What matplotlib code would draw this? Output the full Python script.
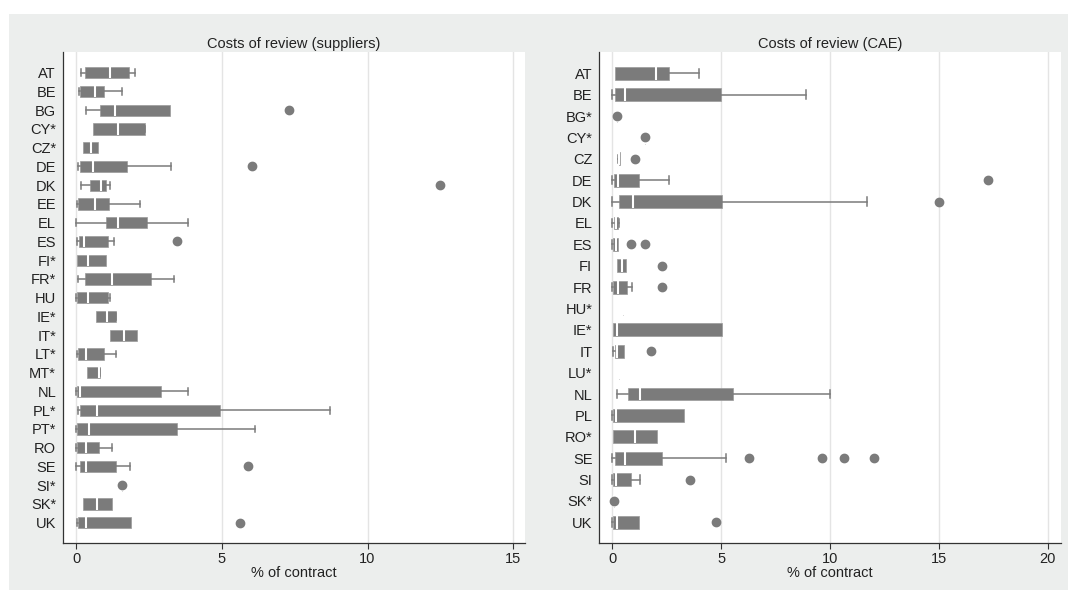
import matplotlib
matplotlib.use("Agg")
import matplotlib.pyplot as plt
from matplotlib.patches import Rectangle

plt.rcParams['font.family'] = ['Liberation Sans', 'DejaVu Sans']

# ---------------- Data: Costs of review (suppliers) ----------------
sup_countries = ["AT", "BE", "BG", "CY*", "CZ*", "DE", "DK", "EE", "EL", "ES", "FI*", "FR*",
                 "HU", "IE*", "IT*", "LT*", "MT*", "NL", "PL*", "PT*", "RO", "SE", "SI*", "SK*", "UK"]
sup_whislo = [0.15, 0.09, 0.32, 0.58, 0.24, 0.06, 0.15, 0.03, 0.00, 0.03, 0.02, 0.05,
              0.00, 0.69, 1.14, 0.02, 0.36, 0.00, 0.06, 0.00, 0.00, 0.00, 1.56, 0.24, 0.02]
sup_q1 = [0.31, 0.11, 0.80, 0.58, 0.24, 0.14, 0.47, 0.06, 1.03, 0.08, 0.02, 0.31,
          0.02, 0.69, 1.14, 0.07, 0.36, 0.01, 0.14, 0.01, 0.01, 0.14, 1.56, 0.24, 0.06]
sup_med = [1.17, 0.64, 1.33, 1.44, 0.49, 0.56, 0.85, 0.63, 1.43, 0.26, 0.39, 1.22,
           0.41, 1.04, 1.62, 0.33, 0.78, 0.11, 0.72, 0.42, 0.34, 0.34, 1.56, 0.72, 0.33]
sup_q3 = [1.79, 0.96, 3.21, 2.36, 0.75, 1.74, 1.02, 1.12, 2.42, 1.08, 1.02, 2.58,
          1.08, 1.36, 2.09, 0.96, 0.81, 2.92, 4.93, 3.47, 0.79, 1.35, 1.56, 1.24, 1.87]
sup_whishi = [2.01, 1.56, 3.21, 2.37, 0.75, 3.26, 1.17, 2.18, 3.85, 1.30, 1.02, 3.35,
              1.16, 1.37, 2.09, 1.35, 0.82, 3.85, 8.72, 6.15, 1.22, 1.83, 1.56, 1.24, 1.87]
sup_outliers = [[], [], [7.30], [], [], [6.02], [12.5], [], [], [3.45], [], [],
                [], [], [], [], [], [], [], [], [], [5.90], [1.56], [], [5.62]]

# ---------------- Data: Costs of review (CAE) ----------------
cae_countries = ["AT", "BE", "BG*", "CY*", "CZ", "DE", "DK", "EL", "ES", "FI", "FR", "HU*",
                 "IE*", "IT", "LU*", "NL", "PL", "RO*", "SE", "SI", "SK*", "UK"]
cae_whislo = [0.11, 0.00, 0.21, 1.49, 0.25, 0.00, 0.00, 0.00, 0.00, 0.23, 0.00, 0.50,
              0.03, 0.05, 0.29, 0.23, 0.00, 0.03, 0.00, 0.00, 0.06, 0.00]
cae_q1 = [0.11, 0.11, 0.21, 1.49, 0.29, 0.09, 0.32, 0.08, 0.02, 0.23, 0.05, 0.50,
          0.03, 0.11, 0.29, 0.72, 0.02, 0.03, 0.11, 0.05, 0.06, 0.05]
cae_med = [2.01, 0.58, 0.21, 1.49, 0.32, 0.28, 0.95, 0.15, 0.17, 0.43, 0.25, 0.50,
           0.23, 0.23, 0.29, 1.27, 0.17, 1.04, 0.58, 0.17, 0.06, 0.23]
cae_q3 = [2.62, 4.97, 0.21, 1.49, 0.37, 1.21, 5.03, 0.28, 0.25, 0.61, 0.69, 0.50,
          5.02, 0.55, 0.29, 5.55, 3.31, 2.04, 2.27, 0.84, 0.06, 1.21]
cae_whishi = [3.96, 8.90, 0.21, 1.49, 0.37, 2.62, 11.70, 0.30, 0.25, 0.61, 0.90, 0.50,
              5.02, 0.55, 0.29, 10.0, 3.31, 2.04, 5.23, 1.27, 0.06, 1.21]
cae_outliers = [[], [], [0.21], [1.49], [1.04], [17.24], [15.0], [], [0.87, 1.49], [2.30], [2.30], [],
                [], [1.78], [], [], [], [], [6.26, 9.63, 10.66, 12.0], [3.57], [0.06], [4.77]]

sup_ticks = [0, 5, 10, 15]
cae_ticks = [0, 5, 10, 15, 20]

BOX = '#7b7b7b'
BG = '#eceeed'
GRID = '#e4e4e4'
FS = 10.5

fig = plt.figure(figsize=(10.68, 5.90), dpi=100)
fig.patch.set_facecolor('white')
fig.patches.append(Rectangle((9 / 1068, 0), 1 - 9 / 1068, (590 - 14) / 590,
                             transform=fig.transFigure, facecolor=BG, edgecolor='none', zorder=-10))


def draw_panel(rect, countries, wlo, q1, med, q3, whi, outl, xlim, ylim, ticks, title, capw):
    ax = fig.add_axes(rect)
    ax.set_facecolor('white')
    n = len(countries)
    stats = []
    for i in range(n):
        stats.append(dict(label=countries[i], whislo=wlo[i], q1=q1[i], med=med[i],
                          q3=q3[i], whishi=whi[i], fliers=outl[i]))
    pos = list(range(1, n + 1))
    res = ax.bxp(stats, positions=pos, widths=0.6, orientation='horizontal',
                 patch_artist=True, capwidths=capw, manage_ticks=False,
                 boxprops=dict(facecolor=BOX, edgecolor='#9a9a9a', linewidth=0.5),
                 medianprops=dict(color='white', linewidth=1.5),
                 whiskerprops=dict(color=BOX, linewidth=1.1),
                 capprops=dict(color=BOX, linewidth=1.1),
                 flierprops=dict(marker='o', markerfacecolor=BOX, markeredgecolor=BOX,
                                 markersize=6, linestyle='none'))
    # hide caps where whisker coincides with box edge
    for i in range(n):
        if abs(wlo[i] - q1[i]) < 1e-9:
            res['caps'][2 * i].set_visible(False)
        if abs(whi[i] - q3[i]) < 1e-9:
            res['caps'][2 * i + 1].set_visible(False)
    for f in res['fliers']:
        f.set_zorder(5)
    ax.set_yticks(pos)
    ax.set_yticklabels(countries, fontsize=FS, color='#222222')
    ax.set_ylim(*ylim)
    ax.set_xlim(*xlim)
    ax.set_xticks(ticks)
    ax.set_xticklabels([str(t) for t in ticks], fontsize=FS, color='#222222')
    ax.tick_params(axis='y', length=0, pad=5)
    ax.tick_params(axis='x', length=4, width=0.8, color='#333333', pad=3)
    ax.xaxis.grid(True, color=GRID, linewidth=1.0)
    ax.set_axisbelow(True)
    for s in ['top', 'right']:
        ax.spines[s].set_visible(False)
    for s in ['left', 'bottom']:
        ax.spines[s].set_color('#333333')
        ax.spines[s].set_linewidth(0.9)
    ax.set_xlabel('% of contract', fontsize=FS, labelpad=0, color='#222222')
    ax.set_title(title, fontsize=FS, pad=3, color='#222222')
    return ax


bottom = (590 - 542.7) / 590
height = (542.7 - 52.3) / 590
draw_panel([63 / 1068, bottom, 462 / 1068, height], sup_countries, sup_whislo, sup_q1, sup_med,
           sup_q3, sup_whishi, sup_outliers, (-0.46, 15.41), (26.07, -0.09), sup_ticks,
           'Costs of review (suppliers)', 0.36)
draw_panel([599.3 / 1068, bottom, 461.4 / 1068, height], cae_countries, cae_whislo, cae_q1, cae_med,
           cae_q3, cae_whishi, cae_outliers, (-0.6, 20.6), (22.95, 0.02), cae_ticks,
           'Costs of review (CAE)', 0.4)

fig.savefig('out.png', dpi=100, facecolor=fig.get_facecolor())
